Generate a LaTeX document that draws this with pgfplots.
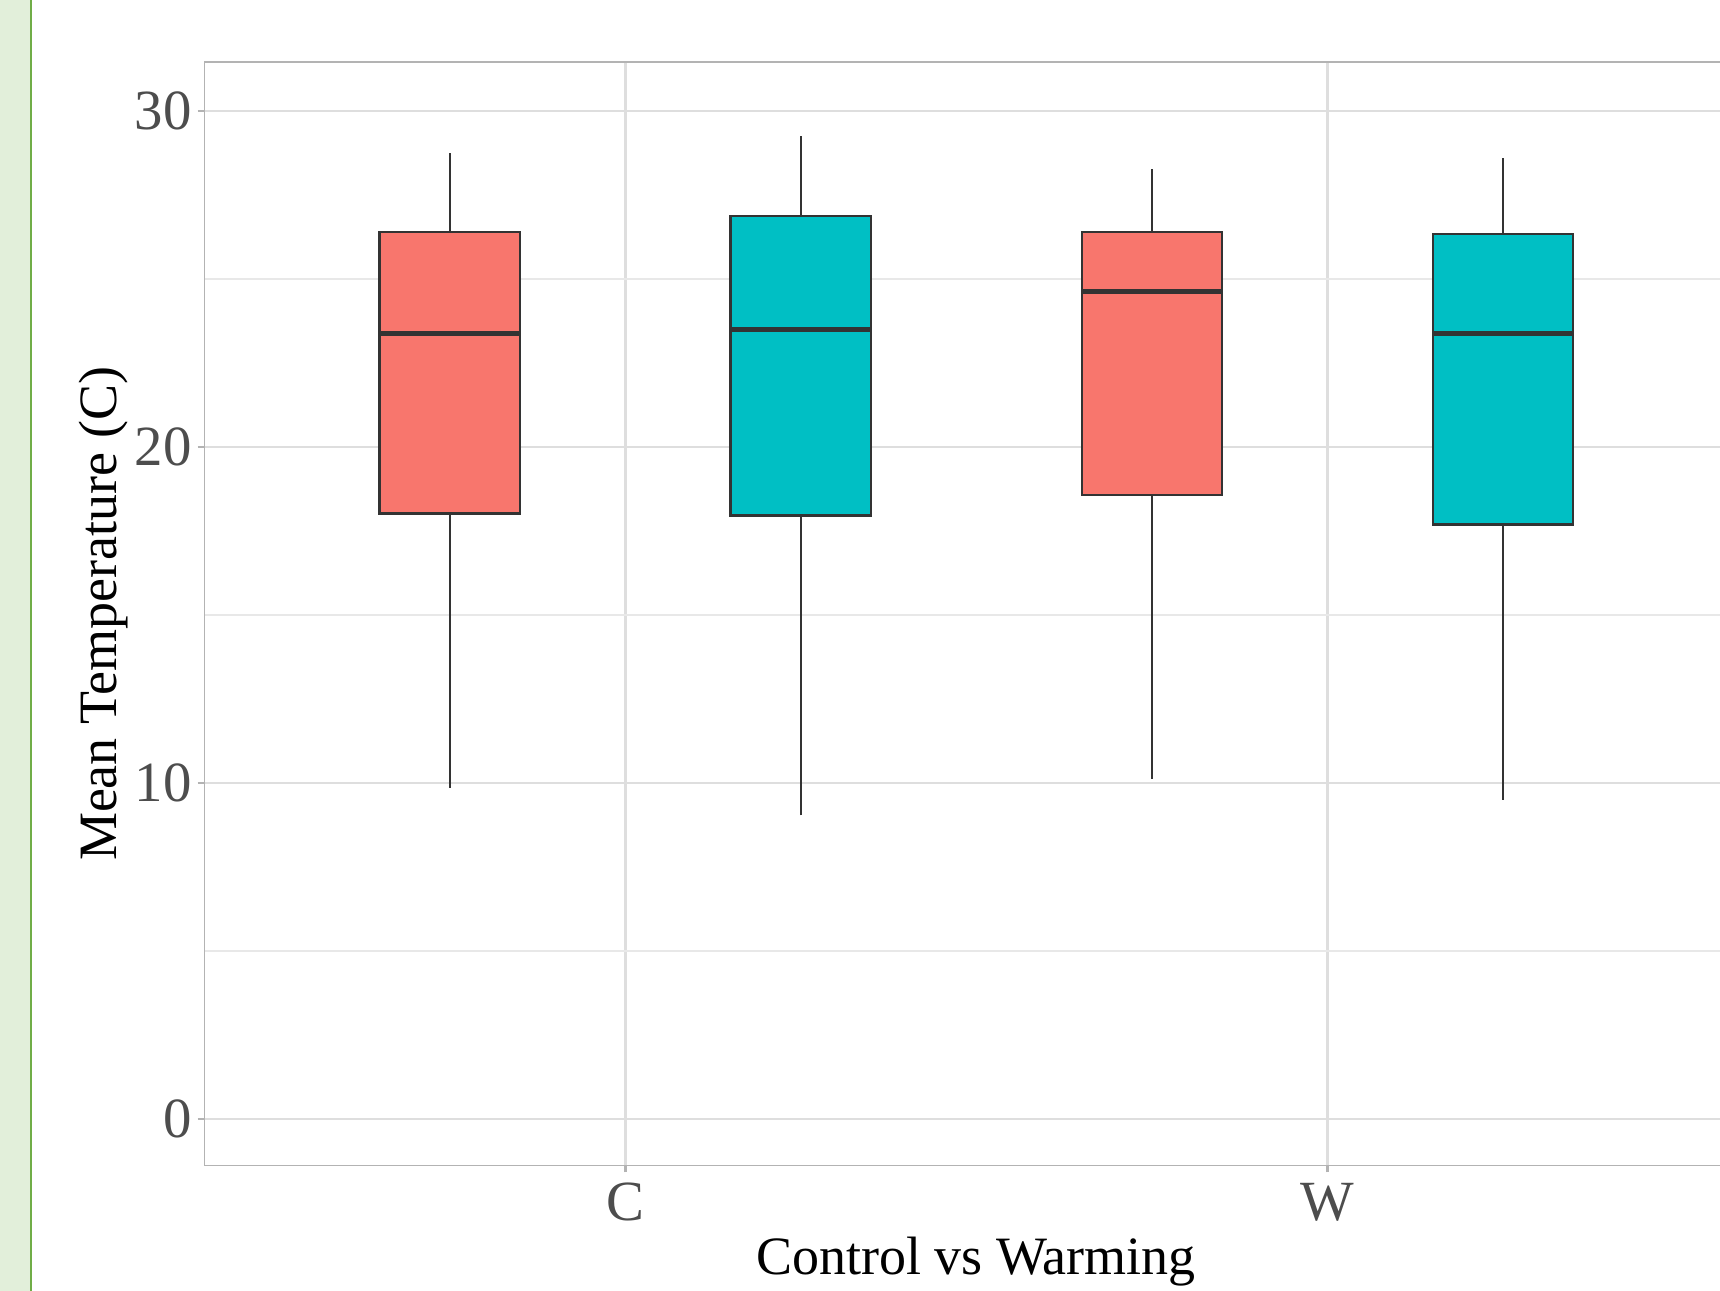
\documentclass[border=0pt]{standalone}
\usepackage{pgfplots}
\pgfplotsset{compat=1.18}
\usepackage{fontspec}
\setmainfont{Liberation Serif}
\definecolor{redbox}{HTML}{F8766D}
\definecolor{tealbox}{HTML}{00BFC4}
\definecolor{boxline}{HTML}{333333}
\definecolor{gridc}{HTML}{DEDEDE}
\definecolor{gridminor}{HTML}{E8E8E8}
\definecolor{framec}{HTML}{B3B3B3}
\definecolor{ticklab}{HTML}{4D4D4D}
\definecolor{stripfill}{HTML}{E2EFDA}
\definecolor{stripline}{HTML}{70AD47}
\begin{document}
\fontsize{13.5bp}{16bp}\selectfont
\begin{tikzpicture}
\useasboundingbox (0,0) rectangle (430bp,322.75bp);
\fill[stripfill] (0,0) rectangle (7.75bp,322.75bp);
\draw[stripline, line width=0.55bp] (7.75bp,0) -- (7.75bp,322.75bp);
\begin{axis}[
  at={(51bp,31.25bp)}, anchor=south west,
  scale only axis, width=379bp, height=276.15bp,
  xmin=0.4, xmax=2.559, ymin=-1.40, ymax=31.48,
  xtick={1,2}, xticklabels={C,W},
  ytick={0,10,20,30}, minor ytick={5,15,25},
  grid=both,
  major grid style={gridc, line width=0.6bp},
  minor grid style={gridminor, line width=0.6bp},
  axis line style={draw=none},
  tick align=outside, xtick pos=bottom, ytick pos=left,
  major tick length=1.6bp, minor tick length=0pt,
  tick style={framec, line width=0.6bp},
  ticklabel style={font=\fontsize{14.2bp}{16bp}\selectfont, text=ticklab},
  yticklabel style={xshift=3.2bp},
  xticklabel style={yshift=2bp},
  /pgf/number format/assume math mode=true,
  box/.style={draw=boxline, line width=0.6bp},
  med/.style={boxline, line width=1.3bp},
  wh/.style={boxline, line width=0.6bp},
]
% C, red: whiskers 9.86 / 28.76, box 18.02 - 26.41, median 23.38
\addplot[wh] coordinates {(0.75,26.41) (0.75,28.76)};
\addplot[wh] coordinates {(0.75,9.86) (0.75,18.02)};
\addplot[box, fill=redbox] coordinates {(0.65,18.02) (0.85,18.02) (0.85,26.41) (0.65,26.41)} -- cycle;
\addplot[med] coordinates {(0.65,23.38) (0.85,23.38)};
% C, teal: whiskers 9.04 / 29.25, box 17.96 - 26.87, median 23.51
\addplot[wh] coordinates {(1.25,26.87) (1.25,29.25)};
\addplot[wh] coordinates {(1.25,9.04) (1.25,17.96)};
\addplot[box, fill=tealbox] coordinates {(1.15,17.96) (1.35,17.96) (1.35,26.87) (1.15,26.87)} -- cycle;
\addplot[med] coordinates {(1.15,23.51) (1.35,23.51)};
% W, red: whiskers 10.12 / 28.27, box 18.58 - 26.41, median 24.62
\addplot[wh] coordinates {(1.75,26.41) (1.75,28.27)};
\addplot[wh] coordinates {(1.75,10.12) (1.75,18.58)};
\addplot[box, fill=redbox] coordinates {(1.65,18.58) (1.85,18.58) (1.85,26.41) (1.65,26.41)} -- cycle;
\addplot[med] coordinates {(1.65,24.62) (1.85,24.62)};
% W, teal: whiskers 9.50 / 28.60, box 17.70 - 26.35, median 23.38
\addplot[wh] coordinates {(2.25,26.35) (2.25,28.60)};
\addplot[wh] coordinates {(2.25,9.50) (2.25,17.70)};
\addplot[box, fill=tealbox] coordinates {(2.15,17.70) (2.35,17.70) (2.35,26.35) (2.15,26.35)} -- cycle;
\addplot[med] coordinates {(2.15,23.38) (2.35,23.38)};
\draw[framec, line width=0.6bp] (rel axis cs:1,0) -- (rel axis cs:0,0) -- (rel axis cs:0,1) -- (rel axis cs:1,1);
\end{axis}
\node[rotate=90] at (26bp,169.25bp) {Mean Temperature (C)};
\node at (244bp,7.3bp) {Control vs Warming};
\end{tikzpicture}
\end{document}
